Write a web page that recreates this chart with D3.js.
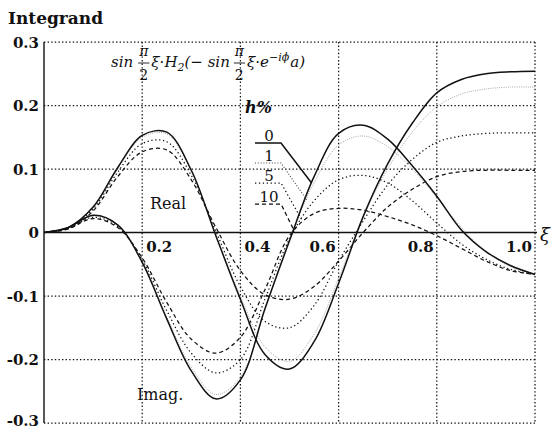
<!DOCTYPE html>
<html>
<head>
<meta charset="utf-8">
<script src="https://cdn.jsdelivr.net/npm/d3@7"></script>
<style>
  body { margin: 0; background: #fff; }
  svg { display: block; }
  text { font-family: "DejaVu Serif", "Liberation Serif", serif; fill: #111; }
</style>
</head>
<body>
<svg id="chart" width="552" height="429"></svg>
<script>
// Integrand sin(pi/2 xi) * H2(-sin(pi/2 xi) e^{-i phi} a), real and imaginary parts, for damping h% = 0, 1, 5, 10
const xi = [0, 0.05, 0.1, 0.15, 0.2, 0.25, 0.3, 0.35, 0.4, 0.45, 0.5,
            0.55, 0.6, 0.65, 0.7, 0.75, 0.8, 0.85, 0.9, 0.95, 1.0];

const realH0  = [0, 0.008, 0.040, 0.102, 0.153, 0.158, 0.098, -0.005, -0.105, -0.192, -0.215,
                 -0.172, -0.080, 0.025, 0.108, 0.172, 0.220, 0.241, 0.250, 0.253, 0.254];
const realH1  = [0, 0.008, 0.039, 0.100, 0.150, 0.155, 0.096, -0.004, -0.100, -0.180, -0.203,
                 -0.160, -0.072, 0.025, 0.100, 0.158, 0.198, 0.218, 0.226, 0.229, 0.229];
const realH5  = [0, 0.007, 0.037, 0.095, 0.140, 0.143, 0.090, 0.002, -0.085, -0.140, -0.150,
                 -0.115, -0.045, 0.018, 0.075, 0.115, 0.142, 0.152, 0.156, 0.157, 0.157];
const realH10 = [0, 0.006, 0.034, 0.088, 0.127, 0.130, 0.083, 0.008, -0.060, -0.098, -0.105,
                 -0.085, -0.045, 0.000, 0.040, 0.068, 0.088, 0.096, 0.098, 0.098, 0.098];

const imagH0  = [0, 0.008, 0.027, 0.012, -0.047, -0.136, -0.218, -0.262, -0.232, -0.120, -0.013,
                 0.088, 0.156, 0.169, 0.147, 0.105, 0.057, 0.004, -0.030, -0.052, -0.066];
const imagH1  = [0, 0.008, 0.026, 0.011, -0.046, -0.133, -0.212, -0.255, -0.228, -0.122, -0.010,
                 0.078, 0.138, 0.152, 0.135, 0.100, 0.055, 0.008, -0.030, -0.054, -0.066];
const imagH5  = [0, 0.007, 0.024, 0.010, -0.043, -0.123, -0.190, -0.221, -0.200, -0.105, -0.010,
                 0.050, 0.083, 0.090, 0.078, 0.050, 0.015, -0.018, -0.042, -0.058, -0.066];
const imagH10 = [0, 0.006, 0.022, 0.008, -0.040, -0.110, -0.168, -0.190, -0.165, -0.090, -0.005,
                 0.030, 0.038, 0.035, 0.025, 0.012, -0.005, -0.025, -0.045, -0.060, -0.066];

const hLabels = ["0", "1", "5", "10"];
// xi at which each legend leader meets its imaginary-part curve
const leaderXi = [0.545, 0.535, 0.525, 0.51];

const xTicks = [0.2, 0.4, 0.6, 0.8, 1.0];
const xTickLabels = ["0.2", "0.4", "0.6", "0.8", "1.0"];
const yTicks = [0.3, 0.2, 0.1, 0, -0.1, -0.2, -0.3];
const yTickLabels = ["0.3", "0.2", "0.1", "0", "-0.1", "-0.2", "-0.3"];

const realSeries = [realH0, realH1, realH5, realH10];
const imagSeries = [imagH0, imagH1, imagH5, imagH10];

const lineStyles = [
  { stroke: "#111", width: 1.5, dash: null },
  { stroke: "#8a8a8a", width: 0.9, dash: "0.8,1.4" },
  { stroke: "#111", width: 1.25, dash: "1.3,2.6" },
  { stroke: "#111", width: 1.25, dash: "4,3" }
];

const svg = d3.select("#chart");
const x = d3.scaleLinear().domain([0, 1]).range([44, 535]);
const y = d3.scaleLinear().domain([-0.3, 0.3]).range([423, 42]);

const gridDash = "1.4,2.2";

// grid lines (dotted), including frame top/right/bottom
const grid = svg.append("g");
grid.selectAll("line.v").data(xTicks).join("line")
  .attr("x1", d => x(d)).attr("x2", d => x(d))
  .attr("y1", y(0.3)).attr("y2", y(-0.3))
  .attr("stroke", "#111").attr("stroke-width", 1.25).attr("stroke-dasharray", gridDash);
grid.selectAll("line.h").data(yTicks.filter(d => d !== 0)).join("line")
  .attr("x1", x(0)).attr("x2", x(1))
  .attr("y1", d => y(d)).attr("y2", d => y(d))
  .attr("stroke", "#111").attr("stroke-width", 1.25).attr("stroke-dasharray", gridDash);

// left axis (solid) and zero line
svg.append("line").attr("x1", x(0)).attr("x2", x(0)).attr("y1", y(0.3)).attr("y2", y(-0.3))
  .attr("stroke", "#111").attr("stroke-width", 1.4);
svg.append("line").attr("x1", x(0)).attr("x2", x(1) + 2).attr("y1", y(0)).attr("y2", y(0))
  .attr("stroke", "#111").attr("stroke-width", 1.4);

// y tick labels
svg.append("g").selectAll("text").data(yTicks).join("text")
  .attr("x", 39).attr("y", d => Math.min(y(d) + 5.5, 426))
  .attr("text-anchor", "end").attr("font-size", 15).attr("font-weight", 600)
  .text((d, i) => yTickLabels[i]);

// x tick labels, set just below the zero line
svg.append("g").selectAll("text").data(xTicks).join("text")
  .attr("x", (d, i) => i < 2 ? x(d) + 4 : x(d) - 3)
  .attr("y", y(0) + 19)
  .attr("text-anchor", (d, i) => i < 2 ? "start" : "end")
  .attr("font-size", 15).attr("font-weight", 600)
  .text((d, i) => xTickLabels[i]);

svg.append("text").attr("x", 540).attr("y", y(0) + 8)
  .attr("font-size", 18).attr("font-style", "italic").text("ξ");

svg.append("text").attr("x", 8).attr("y", 24)
  .attr("font-size", 17).attr("font-weight", 600).text("Integrand");

// curves
const line = d3.line()
  .x((d, i) => x(xi[i]))
  .y(d => y(d))
  .curve(d3.curveCatmullRom.alpha(0.5));

const curves = svg.append("g").attr("fill", "none");
[...realSeries.map((s, i) => ({ s, i })), ...imagSeries.map((s, i) => ({ s, i }))]
  .sort((a, b) => b.i - a.i)
  .forEach(({ s, i }) => {
    const st = lineStyles[i];
    curves.append("path").attr("d", line(s))
      .attr("stroke", st.stroke).attr("stroke-width", st.width)
      .attr("stroke-dasharray", st.dash).attr("stroke-linejoin", "round");
  });

// part labels
svg.append("text").attr("x", 150).attr("y", 209).attr("font-size", 16).text("Real");
svg.append("text").attr("x", 137).attr("y", 400).attr("font-size", 16).text("Imag.");

// legend: h% with leader lines to the imaginary-part curves
svg.append("text").attr("x", 245).attr("y", 113).attr("font-size", 16)
  .attr("font-style", "italic").attr("font-weight", 600).text("h%");

function valueAt(series, t) {
  const j = Math.min(xi.length - 2, Math.floor(t / 0.05));
  const f = (t - xi[j]) / (xi[j + 1] - xi[j]);
  return series[j] + f * (series[j + 1] - series[j]);
}

const legendTop = [142, 162, 182, 203];
hLabels.forEach((lab, i) => {
  const st = lineStyles[i];
  const yb = legendTop[i];
  svg.append("text").attr("x", 269).attr("y", yb - 1).attr("text-anchor", "middle")
    .attr("font-size", 15).text(lab);
  const tx = x(leaderXi[i]);
  const ty = y(valueAt(imagSeries[i], leaderXi[i]));
  svg.append("path")
    .attr("d", `M255,${yb + 1}L281,${yb + 1}L${tx},${ty}`)
    .attr("fill", "none").attr("stroke", i === 1 ? "#444" : st.stroke)
    .attr("stroke-width", i === 1 ? 1.1 : st.width)
    .attr("stroke-dasharray", i === 1 ? "1,1.8" : st.dash);
});

// formula heading
const fg = svg.append("g").attr("font-family", "'Liberation Serif', serif").attr("font-style", "italic");
let cx = 111;
const base = 67;
function piece(str, opts = {}) {
  const t = fg.append("text").attr("x", cx).attr("y", base + (opts.dy || 0))
    .attr("font-size", opts.size || 15).text(str);
  cx += t.node().getComputedTextLength() + (opts.gap || 0);
  return t;
}
function frac(num, den) {
  const a = fg.append("text").attr("x", cx + 1).attr("y", base - 11).attr("font-size", 14).text(num);
  const b = fg.append("text").attr("x", cx + 1).attr("y", base + 13).attr("font-size", 14)
    .attr("font-style", "normal").text(den);
  const w = Math.max(a.node().getComputedTextLength(), b.node().getComputedTextLength()) + 2;
  fg.append("line").attr("x1", cx).attr("x2", cx + w).attr("y1", base - 4).attr("y2", base - 4)
    .attr("stroke", "#111").attr("stroke-width", 0.9);
  cx += w + 2;
}
piece("sin", { gap: 5 });
frac("π", "2");
piece("ξ·H");
piece("2", { size: 11, dy: 4 });
piece("(− sin", { gap: 4 });
frac("π", "2");
piece("ξ·e");
piece("−iϕ", { size: 11, dy: -6, gap: 1 });
piece("a)");
</script>
</body>
</html>
